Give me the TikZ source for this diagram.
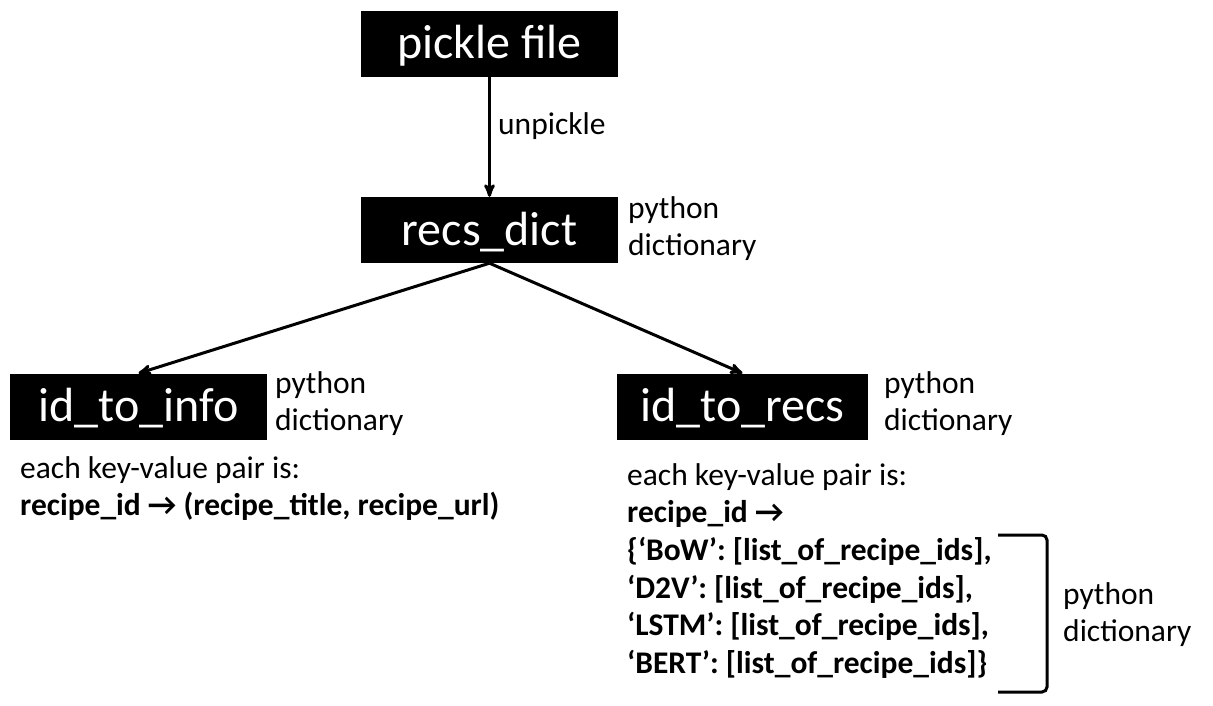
\documentclass[tikz,border=0pt]{standalone}
\usepackage{fontspec}
\setmainfont{Carlito}
\usetikzlibrary{arrows}

\begin{document}
\begin{tikzpicture}[x=1pt, y=-1pt,
  box/.style={fill=black, text=white, inner sep=0, minimum width=257pt, minimum height=66pt,
    text height=36pt, text depth=6pt, font=\fontsize{48}{57}\selectfont},
  note/.style={anchor=base west, align=left, inner sep=0, font=\fontsize{31.5}{37}\selectfont},
  link/.style={black, line width=3pt, ->, >=stealth'}]
\useasboundingbox (0,0) rectangle (1213,706);
% boxes
\node[box] (pickle) at (489.5,44) {pickle file};
\node[box] (recs) at (489.5,230) {recs\_dict};
\node[box] (info) at (138.5,406.5) {id\_to\_info};
\node[box, minimum width=251pt] (torecs) at (742.5,406.5) {id\_to\_recs};
% side notes (base = last line)
\node[note] (unpickle) at (498,135) {unpickle};
\node[note] (recsnote) at (628,255) {python\\dictionary};
\node[note] (infonote) at (275,430) {python\\dictionary};
\node[note] (torecsnote) at (884,430) {python\\dictionary};
\node[note] (infopair) at (20,515) {each key-value pair is:\\\textbf{recipe\_id → (recipe\_title, recipe\_url)}};
\node[note, font=\fontsize{31.5}{37.7}\selectfont] (recspair) at (627,673.5) {each key-value pair is:\\
  \textbf{recipe\_id →}\\
  \textbf{\{‘BoW’: [list\_of\_recipe\_ids],}\\
  \textbf{‘D2V’: [list\_of\_recipe\_ids],}\\
  \textbf{‘LSTM’: [list\_of\_recipe\_ids],}\\
  \textbf{‘BERT’: [list\_of\_recipe\_ids]\}}};
\node[note] (dictnote) at (1063,641) {python\\dictionary};
% arrows
\draw[link] (pickle.south) -- (recs.north);
\draw[link] (recs.south) -- (info.north);
\draw[link] (recs.south) -- (torecs.north);
% bracket
\coordinate (brtop) at (998,535);
\coordinate (brbot) at (998,692);
\draw[line width=3pt, rounded corners=5pt] (brtop) -- ++(49,0) |- (brbot);
\end{tikzpicture}
\end{document}
